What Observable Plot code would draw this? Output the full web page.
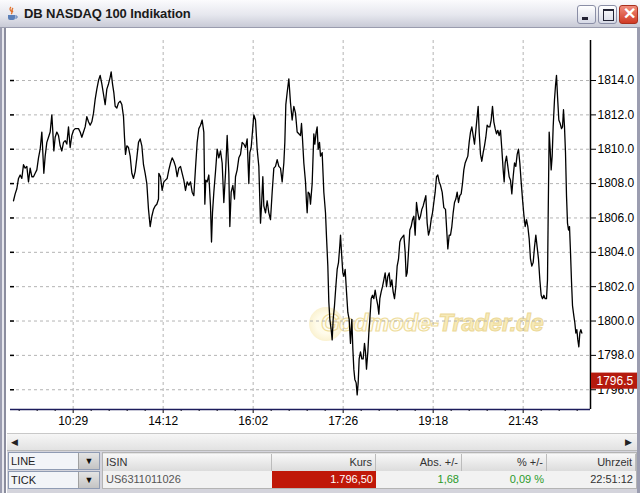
<!DOCTYPE html>
<html>
<head>
<meta charset="utf-8">
<script src="https://cdn.jsdelivr.net/npm/d3@7"></script>
<script src="https://cdn.jsdelivr.net/npm/@observablehq/plot@0.6"></script>
<style>
  html, body { margin: 0; padding: 0; }
  body { width: 640px; height: 493px; overflow: hidden; position: relative; background: #d4d4dc; font-family: "Liberation Sans", Arial, sans-serif; }
  .abs { position: absolute; }
  #title { left: 0; top: 0; width: 640px; height: 28px; background: linear-gradient(#fbfbfd, #e6e7ee 55%, #c8cad6); border-bottom: 1px solid #9a9cae; box-sizing: border-box; }
  #title .txt { left: 24px; top: 6px; font-size: 13px; font-weight: bold; color: #1a1a1a; letter-spacing: -0.1px; }
  #icon { left: 5px; top: 6px; width: 14px; height: 15px; }
  .wbtn { top: 5px; width: 19px; height: 19px; box-sizing: border-box; border: 1px solid #8a8ea6; border-radius: 3px; background: linear-gradient(#ffffff, #d6d9e6); }
  #bmin { left: 577px; } #bmax { left: 598px; } #bclose { left: 619px; background: linear-gradient(#f08c7c, #d03a24); border-color: #a8301e; }
  #leftborder { left: 0; top: 28px; width: 7px; height: 465px; background: linear-gradient(90deg, #9b9db0 0 2px, #e8e8ee 2px 4px, #8b8d9e 4px 6px, #ffffff 6px); }
  #rightborder { left: 637px; top: 28px; width: 3px; height: 465px; background: #9b9db0; }
  #chartbox { left: 7px; top: 28px; width: 630px; height: 405px; background: #ffffff; overflow: hidden; }
  #wm { left: 302px; top: 279px; width: 260px; height: 40px; }
  #wm .circle { position: absolute; left: 0; top: 0; width: 34px; height: 34px; border-radius: 50%; background: radial-gradient(#fffbe8 40%, #f5e6b0); opacity: 0.9; }
  #wm .t { position: absolute; left: 12px; top: 2px; font-size: 24px; font-weight: bold; font-style: italic; white-space: nowrap; letter-spacing: -0.3px; }
  #wm .a { color: #fffcf2; -webkit-text-stroke: 1.2px #eedc9c; }
  #wm .b { color: #f7eab8; -webkit-text-stroke: 1px #ecd998; }
  #svgwrap { left: 0; top: 0; }
  #scroll { left: 7px; top: 433px; width: 630px; height: 18px; background: linear-gradient(#f6f6f6, #e2e2e2); border-top: 1px solid #c8c8c8; border-bottom: 1px solid #b8b8b8; box-sizing: border-box; }
  .sarrow { top: 0; width: 14px; height: 16px; font-size: 9px; line-height: 16px; text-align: center; color: #222; }
  #combos .cb { left: 8px; width: 92px; height: 18px; box-sizing: border-box; border: 1px solid #8f9bb3; background: #f2f4f8; }
  .cb .ct { position: absolute; left: 2px; top: 2px; font-size: 11px; color: #222; }
  .cb .arr { position: absolute; right: 0; top: 0; width: 20px; height: 16px; background: linear-gradient(#e4e4e4, #c4c4c4); border-left: 1px solid #a0a0a0; font-size: 9px; text-align: center; line-height: 16px; color: #111; }
  #table { left: 102px; top: 452px; width: 535px; height: 37px; background: #e4e4e4; border: 1px solid #b4b4b4; box-sizing: border-box; }
  .hc { top: 1px; height: 17px; background: linear-gradient(#f8f8f8, #dcdcdc); border-right: 1px solid #bcbcbc; box-sizing: border-box; font-size: 11px; color: #333; line-height: 17px; padding: 0 3px; }
  .rc { top: 18px; height: 17px; background: #f2f2f2; box-sizing: border-box; font-size: 11px; color: #444; line-height: 17px; padding: 0 3px; }
</style>
</head>
<body>
<div id="title" class="abs">
  <svg id="icon" class="abs" viewBox="0 0 14 15"><path d="M3 9 h7 v3 a2 2 0 0 1 -2 2 h-3 a2 2 0 0 1 -2 -2z" fill="#5b7fb8"/><path d="M10 10 h2 v2 h-2" fill="none" stroke="#5b7fb8"/><path d="M6 1 q-2 2 0 4 q2 2 0 3 M8 2 q-2 2 0 4" fill="none" stroke="#e0702a" stroke-width="1.2"/></svg>
  <div class="abs txt">DB NASDAQ 100 Indikation</div>
  <div id="bmin" class="abs wbtn"><div class="abs" style="left:4px;top:11px;width:6px;height:3px;background:#223;"></div></div>
  <div id="bmax" class="abs wbtn"><div class="abs" style="left:4px;top:3px;width:9px;height:9px;border:1px solid #223;border-top-width:2px;"></div></div>
  <div id="bclose" class="abs wbtn"><div class="abs" style="left:3px;top:-2px;font-size:16px;font-weight:bold;color:#fff;">✕</div></div>
</div>
<div id="leftborder" class="abs"></div>
<div id="rightborder" class="abs"></div>
<div id="chartbox" class="abs">
  <div id="wm" class="abs"><div class="circle"></div><div class="t"><span class="a">Godmode-</span><span class="b">Trader.de</span></div></div>
  <div id="svgwrap" class="abs"></div>
</div>
<div id="scroll" class="abs">
  <div class="abs sarrow" style="left:0;">◀</div>
  <div class="abs sarrow" style="left:614px;">▶</div>
</div>
<div id="combos">
  <div class="abs cb" style="top:452px;"><div class="ct">LINE</div><div class="arr">▼</div></div>
  <div class="abs cb" style="top:471px;"><div class="ct">TICK</div><div class="arr">▼</div></div>
</div>
<div id="table" class="abs"></div>
<script>
// ---- data ----
const tick = [
 9,14,19,24,29,34,39,44,49,54,59,64,69,74,79,84,89,94,97,100,104,109,114,119,124,127,130,134,139,144,
 149,154,159,164,169,174,179,184,189,194,199,204,209,214,219,224,229,234,239,244,249,254,259,264,269,274,279,284,289,294,
 299,302,306,310,314,319,324,329,334,339,342,345,349,354,359,364,369,374,379,384,389,394,399,404,409,414,419,424,429,434,439,444,
 445,450,455,460,465,470,475,480,485,490,495,500,505,510,515,520,525,530,535,540,545,550,555,560,565,570,575,580,
 583,586,590,595,600,603,606,610,615,620,625,630,635,640,645,650,655,658,662,667,672,675,680,685,690,695,700,705,710,715,
 718,722,725,730,735,740,745,750,753,757,760,765,770,775,780,785,790,795,800,805,810,815,820,823,826,830,835,840,845,850,855,860,865,870,
 873,876,880,885,888,890,893,897,900,905,910,913,917,920,923,927,930,935,940,945,948,952,955,958,962,965,968,972,976,980,
 984,988,990,993,997,1000,1004,1008,1012,1016,1020,1024,1027,1030,1033,1037,1040,1043,1046,1050,1054,1058,1062,1065,1068,1072,1075,1078,1082,1086,
 1090,1094,1098,1102,1105,1108,1112,1116,1120,1124,1128,1132,1136,1140,1144,1148,1152,1156,1160,1164,1168,1172,1176,1180,1184,1187,1190,1194,1198,1202,
 1206,1210,1214,1218,1222,1226,1230,1234,1238,1242,1246,1250,1254,1258,1262,1266,1270,1274,1278,1282,1286,1290,
 1295,1300,1305,1308,1312,1316,1320,1324,1328,1332,1336,1340,1344,1348,1352,1356,1360,1364,1368,1372,1376,1380,1384,1388,1392,1396,1400,1403,1406,1410,
 1414,1418,1422,1426,1430,1434,1438,1442,1446,1450,1454,1458,1462,1466,1470,1474,1478,1481,1484,1488,1492,1496,1500,1504,1508,1512,1516,1520,1524,1528,
 1532,1536,1540,1544,1548,1552,1556,1560,1564,1568,1572,1576,1580,1584,1588,1592,1596,1600,1604,1608,1611,1613,1616,1619,1622,1625,1628,1632,1635,1638,
 1641,1645,1649,1653,1656,1659,1662,1665,1668,1671,1674,1677,1680,1683,1686,1690,1693,1696,1699,1702,1705,1708,1711,1714
];
const kurs = [
 1807.0,1807.4,1807.7,1808.3,1808.5,1808.3,1809.1,1808.9,1809.0,1808.1,1808.9,1808.4,1808.4,1808.6,1808.8,1809.5,1810.0,1811.0,1809.8,1808.6,
 1809.6,1810.4,1810.7,1811.0,1812.0,1811.0,1809.9,1810.7,1811.0,1810.8,1810.2,1809.9,1810.4,1810.5,1810.3,1811.3,1810.1,1810.8,1811.1,1811.2,
 1811.2,1811.2,1811.0,1810.7,1811.0,1811.3,1811.9,1811.6,1811.4,1811.6,1812.1,1812.9,1813.5,1814.0,1814.3,1813.8,1813.2,1812.6,1813.5,1813.8,
 1814.2,1814.5,1813.8,1813.3,1812.5,1812.4,1812.7,1812.8,1812.6,1811.9,1810.7,1809.7,1810.2,1810.1,1809.6,1808.6,1808.3,1808.7,1809.5,1810.4,
 1810.6,1810.2,1809.1,1808.6,1808.0,1806.5,1805.5,1806.1,1806.5,1806.7,1806.8,1807.1,
 1808.6,1808.4,1807.6,1808.1,1808.2,1808.3,1808.8,1809.2,1809.5,1809.3,1809.0,1808.4,1808.9,1809.0,1808.6,1808.2,1807.6,1808.1,1807.9,1808.1,
 1807.5,1807.3,1808.9,1810.4,1811.2,1811.4,1811.7,1811.0,
 1806.8,1808.2,1808.1,1808.5,1806.7,1804.6,1806.3,1807.5,1808.7,1810.0,1809.5,1809.9,1809.2,1806.9,1808.6,1810.8,1808.6,1805.5,1807.5,1807.9,
 1807.1,1808.4,1808.8,1809.5,1809.7,1810.4,1810.3,1810.1,1810.6,1808.0,1809.8,1810.1,1810.8,1812.0,1811.7,1810.0,1809.0,1805.7,1806.7,1808.4,
 1806.7,1806.3,1807.0,1806.3,1805.9,1807.5,1808.9,1809.0,1809.4,1809.0,1808.9,1808.1,1809.2,1810.4,1812.6,1813.3,1814.1,1812.7,1811.7,1812.5,
 1812.1,1811.0,1810.9,1810.8,
 1811.5,1810.6,1809.2,1808.1,1806.9,1806.3,1807.5,1807.4,1806.8,1808.0,1810.9,1810.3,1811.0,1811.3,1810.0,1810.4,1809.6,1809.8,1807.5,1806.3,
 1804.9,1803.2,1801.1,1800.1,1799.5,1798.9,1800.1,1800.9,1802.0,1803.0,1803.4,1804.4,1805.0,1804.0,1802.8,1802.6,1803.0,1801.7,1800.5,1800.1,
 1798.7,1800.1,1798.4,1797.2,1796.6,1796.4,1795.7,1796.4,1797.8,1798.2,1797.8,1797.8,1798.7,1798.2,1797.2,1798.2,1799.3,1800.1,1801.3,1801.5,
 1801.3,1801.8,1801.3,1800.9,1800.4,1801.3,1801.7,1802.0,1802.4,1802.8,1802.0,1802.6,1802.8,1802.0,1802.4,1801.7,1801.3,1802.0,1803.2,1803.6,
 1804.6,1804.8,1804.9,1805.0,1804.0,1802.6,1802.8,1804.0,1805.3,1805.5,1805.9,1806.1,1805.0,1806.9,1806.3,1805.9,1806.1,1806.5,1806.7,1807.0,
 1807.3,1805.7,1805.0,1805.3,1805.9,1806.3,1806.9,1807.5,1808.4,1808.5,1808.1,1807.9,
 1807.5,1806.6,1806.5,1805.5,1804.2,1805.0,1805.0,1805.5,1806.3,1806.9,1807.1,1807.5,1806.9,1807.3,1807.4,1808.0,1808.8,1809.2,1809.4,1809.6,
 1810.4,1811.0,1811.3,1810.8,1810.3,1811.1,1811.9,1812.5,1811.0,1809.7,1809.3,1809.8,1810.2,1810.7,1811.4,1811.3,1811.3,1811.7,1812.5,1811.6,
 1811.2,1810.9,1811.1,1810.8,1811.1,1810.0,1808.8,1808.1,1809.2,1809.6,1809.0,1808.4,1808.2,1807.4,1808.4,1809.2,1809.0,1809.7,1810.0,1809.2,
 1808.1,1807.1,1806.2,1805.5,1805.9,1805.5,1804.8,1803.6,1803.2,1803.4,1804.3,1805.0,1804.3,1803.6,1802.4,1801.5,1801.3,1801.5,1801.3,1801.3,
 1802.4,1806.1,1811.0,1810.0,1808.8,1809.6,1811.3,1812.9,1813.7,1814.3,1813.1,1811.7,1811.5,1811.2,1811.3,1812.3,1811.3,1809.8,1807.3,1805.7,
 1805.3,1805.5,1804.0,1802.3,1800.9,1800.3,1799.9,1799.3,1799.5,1798.9,1798.5,1799.3,1799.5,1799.3
];
const timeLabels = ["10:29", "14:12", "16:02", "17:26", "19:18", "21:43"];
const timeTicks = [188, 458, 728, 998, 1268, 1538];
const minorStep = 54;
const priceTicks = [1796, 1798, 1800, 1802, 1804, 1806, 1808, 1810, 1812, 1814];
const xDomain = [0, 1740];
const yDomain = [1794.85, 1816.33];
const lastPrice = 1796.5;
const tableHeader = ["ISIN", "Kurs", "Abs. +/-", "% +/-", "Uhrzeit"];
const tableRow = ["US6311011026", "1.796,50", "1,68", "0,09 %", "22:51:12"];

const data = tick.map((t, i) => ({tick: t, kurs: kurs[i]}));
const minorTicks = d3.range(timeTicks[0] - minorStep * 3, xDomain[1], minorStep).filter(t => t > 0 && !timeTicks.includes(t));

const chart = Plot.plot({
  width: 630,
  height: 405,
  marginLeft: 3,
  marginRight: 47,
  marginTop: 12,
  marginBottom: 24,
  style: {background: "transparent", fontFamily: "Liberation Sans, Arial, sans-serif"},
  x: {domain: xDomain},
  y: {domain: yDomain},
  marks: [
    Plot.ruleY(priceTicks, {stroke: "#b4b4b4", strokeDasharray: "3,3", strokeWidth: 1}),
    Plot.ruleX(timeTicks, {stroke: "#b4b4b4", strokeDasharray: "3,3", strokeWidth: 1}),
    Plot.ruleY(priceTicks, {x1: xDomain[0], x2: xDomain[0] + 12, stroke: "#000", strokeWidth: 1.5}),
    Plot.axisY(priceTicks, {anchor: "right", tickSize: 5, tickPadding: 2, fontSize: 12, tickFormat: d => d.toFixed(1), color: "#000", label: null}),
    Plot.axisX(timeTicks, {anchor: "bottom", tickSize: 4, tickPadding: 3, fontSize: 12, tickFormat: (d, i) => timeLabels[i], label: null, color: "#000"}),
    Plot.axisX(minorTicks, {anchor: "bottom", tickSize: 2, tickFormat: () => "", label: null, color: "#000"}),
    Plot.ruleY([yDomain[0]], {stroke: "#1c1c5c", strokeWidth: 1.5}),
    Plot.ruleX([xDomain[1]], {stroke: "#000", strokeWidth: 1.5}),
    Plot.line(data, {x: "tick", y: "kurs", stroke: "#000", strokeWidth: 1.3}),
    Plot.rect([lastPrice], {x1: xDomain[1], x2: xDomain[1], y1: d => d - 0.47, y2: d => d + 0.47, insetLeft: 1, insetRight: -47, fill: "#b51a0e"}),
    Plot.text([lastPrice], {x: xDomain[1], y: d => d, text: d => d.toFixed(1), dx: 6, textAnchor: "start", fill: "#fff", fontSize: 12})
  ]
});
document.getElementById("svgwrap").appendChild(chart);

// data table below the chart
const cols = [[0, 169, "left"], [169, 104, "right"], [273, 86, "right"], [359, 85, "right"], [444, 89, "right"]];
const rowColors = ["#555", "#fff", "#2a9a2a", "#2a9a2a", "#333"];
const tbl = document.getElementById("table");
cols.forEach(([l, w, al], i) => {
  const h = document.createElement("div");
  h.className = "abs hc"; h.style.left = l + "px"; h.style.width = w + "px"; h.style.textAlign = al;
  h.textContent = tableHeader[i]; tbl.appendChild(h);
  const r = document.createElement("div");
  r.className = "abs rc"; r.style.left = l + "px"; r.style.width = w + "px"; r.style.textAlign = al;
  r.style.color = rowColors[i];
  if (i === 1) r.style.background = "#c01808";
  r.textContent = tableRow[i]; tbl.appendChild(r);
});
</script>
</body>
</html>
